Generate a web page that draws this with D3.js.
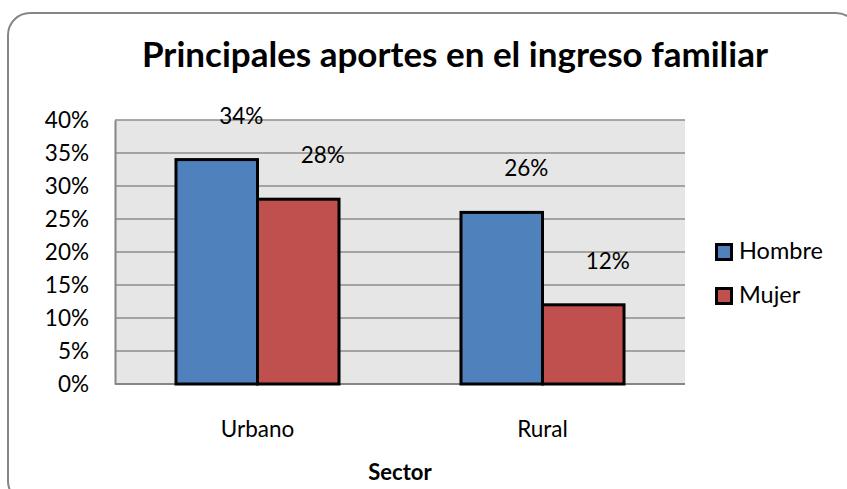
<!DOCTYPE html>
<html>
<head>
<meta charset="utf-8">
<script src="https://cdn.jsdelivr.net/npm/d3@7"></script>
<style>
  html, body { margin: 0; padding: 0; background: #ffffff; }
  svg { display: block; font-family: Lato, "Open Sans", sans-serif; }
</style>
</head>
<body>
<svg id="chart" width="847" height="489"></svg>
<script>
const title = "Principales aportes en el ingreso familiar";
const categories = ["Urbano", "Rural"];
const seriesNames = ["Hombre", "Mujer"];
const hombre = [0.34, 0.26];
const mujer = [0.28, 0.12];
const yTicks = [0, 0.05, 0.10, 0.15, 0.20, 0.25, 0.30, 0.35, 0.40];
const xAxisTitle = "Sector";
const colors = ["#4f81bd", "#c0504d"];

const svg = d3.select("#chart");

// chart border
svg.append("rect")
  .attr("x", 8).attr("y", 13)
  .attr("width", 850).attr("height", 490)
  .attr("rx", 22).attr("ry", 22)
  .attr("fill", "#ffffff")
  .attr("stroke", "#868686").attr("stroke-width", 2);

const plot = { left: 115, top: 120, right: 685, bottom: 384 };

const x0 = d3.scaleBand()
  .domain(categories)
  .range([plot.left, plot.right])
  .paddingInner(0.428)
  .paddingOuter(0.214);

const x1 = d3.scaleBand()
  .domain(seriesNames)
  .range([0, x0.bandwidth()]);

const y = d3.scaleLinear()
  .domain([0, 0.40])
  .range([plot.bottom, plot.top]);

// plot background
svg.append("rect")
  .attr("x", plot.left).attr("y", plot.top)
  .attr("width", plot.right - plot.left)
  .attr("height", plot.bottom - plot.top)
  .attr("fill", "#e6e6e6");

// gridlines
svg.append("g")
  .selectAll("line")
  .data(yTicks.filter(d => d > 0))
  .join("line")
  .attr("x1", plot.left).attr("x2", plot.right)
  .attr("y1", d => y(d)).attr("y2", d => y(d))
  .attr("stroke", "#8c8c8c").attr("stroke-width", 1.5);

// y axis
const yAxis = d3.axisLeft(y)
  .tickValues(yTicks)
  .tickFormat(d3.format(".0%"))
  .tickSize(0)
  .tickPadding(26);
const gy = svg.append("g")
  .attr("transform", `translate(${plot.left},0)`)
  .call(yAxis);
gy.select(".domain").attr("stroke", "#868686").attr("stroke-width", 2);
gy.selectAll("text")
  .attr("font-family", "Lato, sans-serif")
  .attr("font-size", 22.5)
  .attr("fill", "#000");

// x axis
const xAxis = d3.axisBottom(x0).tickSize(0).tickPadding(37);
const gx = svg.append("g")
  .attr("transform", `translate(0,${plot.bottom})`)
  .call(xAxis);
gx.select(".domain").attr("stroke", "#868686").attr("stroke-width", 2)
  .attr("d", `M${plot.left},0H${plot.right}`);
gx.selectAll("text")
  .attr("font-family", "Lato, sans-serif")
  .attr("font-size", 22.5)
  .attr("fill", "#000");

// bars
const rows = categories.map((c, i) => ({ cat: c, values: [hombre[i], mujer[i]] }));
const groups = svg.append("g")
  .selectAll("g")
  .data(rows)
  .join("g")
  .attr("transform", d => `translate(${x0(d.cat)},0)`);

groups.selectAll("rect")
  .data(d => d.values.map((v, j) => ({ name: seriesNames[j], v, j })))
  .join("rect")
  .attr("x", d => x1(d.name))
  .attr("y", d => y(d.v))
  .attr("width", x1.bandwidth())
  .attr("height", d => y(0) - y(d.v))
  .attr("fill", d => colors[d.j])
  .attr("stroke", "#000")
  .attr("stroke-width", 3);

// data labels
groups.selectAll("text.lbl")
  .data(d => d.values.map((v, j) => ({ name: seriesNames[j], v, j })))
  .join("text")
  .attr("class", "lbl")
  .attr("x", d => x1(d.name) + x1.bandwidth() / 2 + 24.5)
  .attr("y", d => y(d.v) - 36)
  .attr("text-anchor", "middle")
  .attr("font-size", 22.5)
  .attr("fill", "#000")
  .text(d => d3.format(".0%")(d.v));

// title
svg.append("text")
  .attr("x", 455).attr("y", 67)
  .attr("text-anchor", "middle")
  .attr("font-size", 35)
  .attr("font-weight", "bold")
  .attr("fill", "#000")
  .text(title);

// x axis title
svg.append("text")
  .attr("x", (plot.left + plot.right) / 2).attr("y", 480)
  .attr("text-anchor", "middle")
  .attr("font-size", 22)
  .attr("font-weight", "bold")
  .attr("fill", "#000")
  .text(xAxisTitle);

// legend
const legend = svg.append("g")
  .selectAll("g")
  .data(seriesNames)
  .join("g")
  .attr("transform", (d, i) => `translate(715,${243 + i * 44})`);
legend.append("rect")
  .attr("x", 1.5).attr("y", 1.5)
  .attr("width", 15).attr("height", 15)
  .attr("fill", (d, i) => colors[i])
  .attr("stroke", "#000").attr("stroke-width", 3);
legend.append("text")
  .attr("x", 24).attr("y", 16)
  .attr("font-size", 23.5)
  .attr("fill", "#000")
  .text(d => d);
</script>
</body>
</html>
